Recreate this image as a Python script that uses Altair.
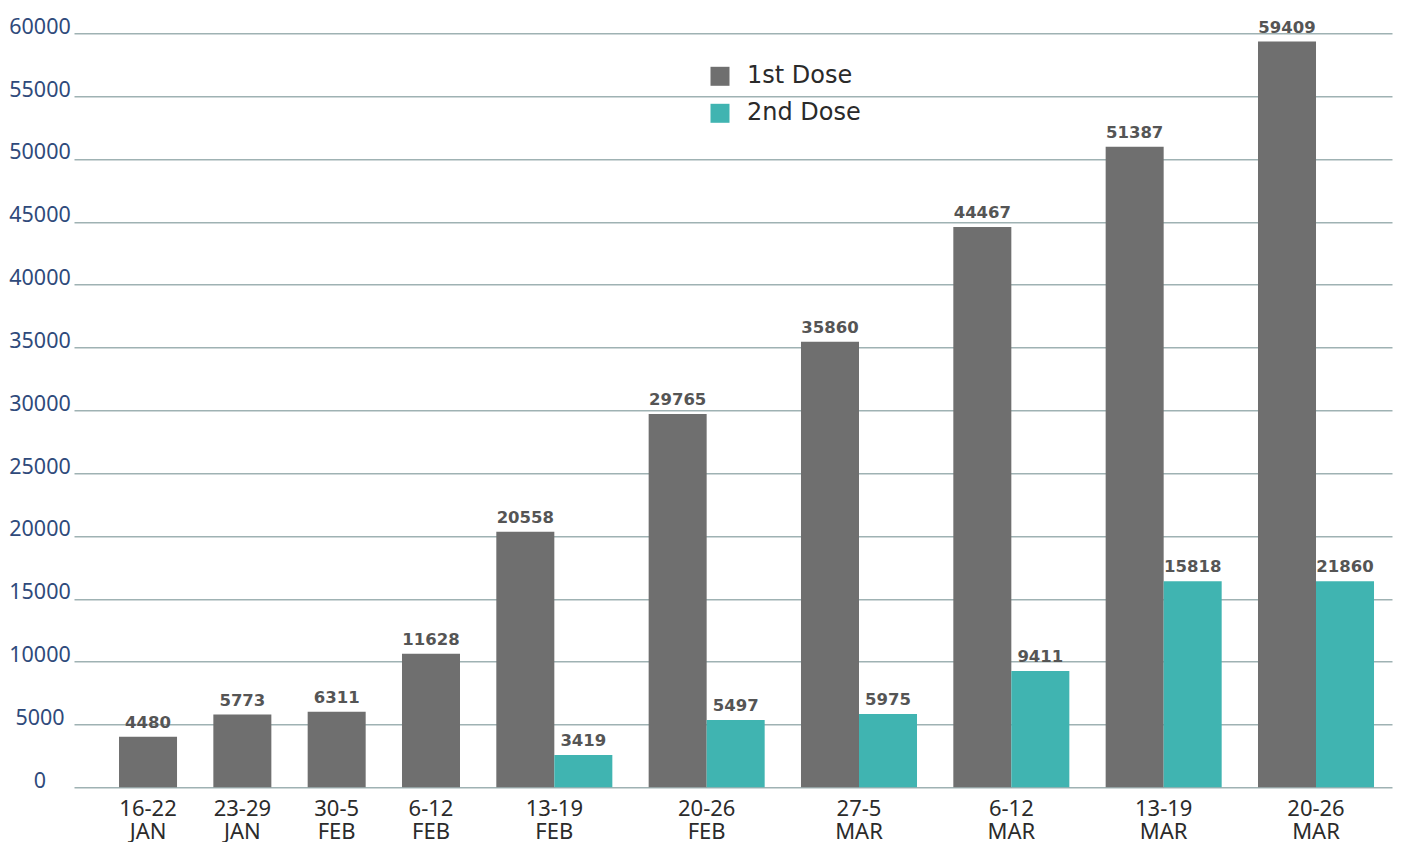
import altair as alt
import pandas as pd

# ---- data ----
week_days = ["16-22", "23-29", "30-5", "6-12", "13-19",
             "20-26", "27-5", "6-12", "13-19", "20-26"]
week_months = ["JAN", "JAN", "FEB", "FEB", "FEB", "FEB", "MAR", "MAR", "MAR", "MAR"]
series = ["1st Dose", "2nd Dose"]

# drawn bar heights (as measured on the picture)
dose1_height = [4030, 5790, 6010, 10630, 20330, 29700, 35450, 44590, 50980, 59340]
dose2_height = [None, None, None, None, 2570, 5360, 5830, 9250, 16400, 16400]

# value labels printed above the bars
dose1_label = [4480, 5773, 6311, 11628, 20558, 29765, 35860, 44467, 51387, 59409]
dose2_label = [None, None, None, None, 3419, 5497, 5975, 9411, 15818, 21860]

y_ticks = [0, 5000, 10000, 15000, 20000, 25000, 30000, 35000, 40000, 45000, 50000, 55000, 60000]

# ---- build tables (bar slots in units of one bar width) ----
GAP = 0.626  # space between week groups, in bar widths
bar_rows, week_rows = [], []
pos = 0.0
for i in range(len(week_days)):
    bars = [(series[0], dose1_height[i], dose1_label[i])]
    if dose2_height[i] is not None:
        bars.append((series[1], dose2_height[i], dose2_label[i]))
    for j, (s, h, l) in enumerate(bars):
        bar_rows.append(dict(week=i, dose=s, x0=pos + j, x1=pos + j + 1,
                             xc=pos + j + 0.5, value=h, base=0, label=str(l)))
    week_rows.append(dict(days=week_days[i], month=week_months[i],
                          xc=pos + len(bars) / 2, base=0))
    pos += len(bars) + GAP
end = pos - GAP

bars_df = pd.DataFrame(bar_rows)
weeks_df = pd.DataFrame(week_rows)

xscale = alt.Scale(domain=[-0.776, end + 0.31], nice=False, zero=False)
yscale = alt.Scale(domain=[0, 60000], nice=False)

bars = alt.Chart(bars_df).mark_bar().encode(
    x=alt.X("x0:Q", scale=xscale, axis=None),
    x2="x1:Q",
    y=alt.Y("value:Q", scale=yscale, title=None,
            axis=alt.Axis(values=y_ticks, format="d", ticks=False, domain=False, grid=True,
                          gridColor="#9fb2b3", gridWidth=1.5,
                          labelAlign="center", labelPadding=34.5,
                          labelBaseline="alphabetic", labelFont="Noto Sans",
                          labelFontSize=21.5, labelColor="#2f4a7b")),
    y2="base:Q",
    color=alt.Color("dose:N",
                    scale=alt.Scale(domain=series, range=["#6f6f6f", "#40b4b1"]),
                    legend=alt.Legend(title=None, orient="none", legendX=634, legendY=31,
                                      symbolType="square", symbolSize=361,
                                      symbolStrokeWidth=0, symbolOpacity=1,
                                      labelFont="DejaVu Sans", labelFontSize=24,
                                      labelColor="#2a2a2a", labelOffset=15,
                                      rowPadding=13, padding=0)),
)

values = alt.Chart(bars_df).mark_text(
    font="DejaVu Sans", fontWeight="bold", fontSize=16.5, color="#555555",
    baseline="alphabetic", dy=-9
).encode(
    x=alt.X("xc:Q", scale=xscale, axis=None),
    y=alt.Y("value:Q", scale=yscale, title=None),
    text="label:N",
)

xlabel_days = alt.Chart(weeks_df).mark_text(
    font="Noto Sans", fontSize=22, color="#2b2b2b", baseline="alphabetic", dy=29
).encode(
    x=alt.X("xc:Q", scale=xscale, axis=None),
    y=alt.Y("base:Q", scale=yscale, title=None),
    text="days:N",
)

xlabel_months = alt.Chart(weeks_df).mark_text(
    font="Noto Sans", fontSize=22, color="#2b2b2b", baseline="alphabetic", dy=52
).encode(
    x=alt.X("xc:Q", scale=xscale, axis=None),
    y=alt.Y("base:Q", scale=yscale, title=None),
    text="month:N",
)

chart = alt.layer(bars, values, xlabel_days, xlabel_months).properties(
    width=1318, height=754,
    autosize=alt.AutoSizeParams(type="none"),
    padding={"left": 66, "top": 25.3, "right": 4, "bottom": 55},
    background="white",
).configure_view(stroke=None)

chart.save("out.html", embed_options={"renderer": "svg", "actions": False})
